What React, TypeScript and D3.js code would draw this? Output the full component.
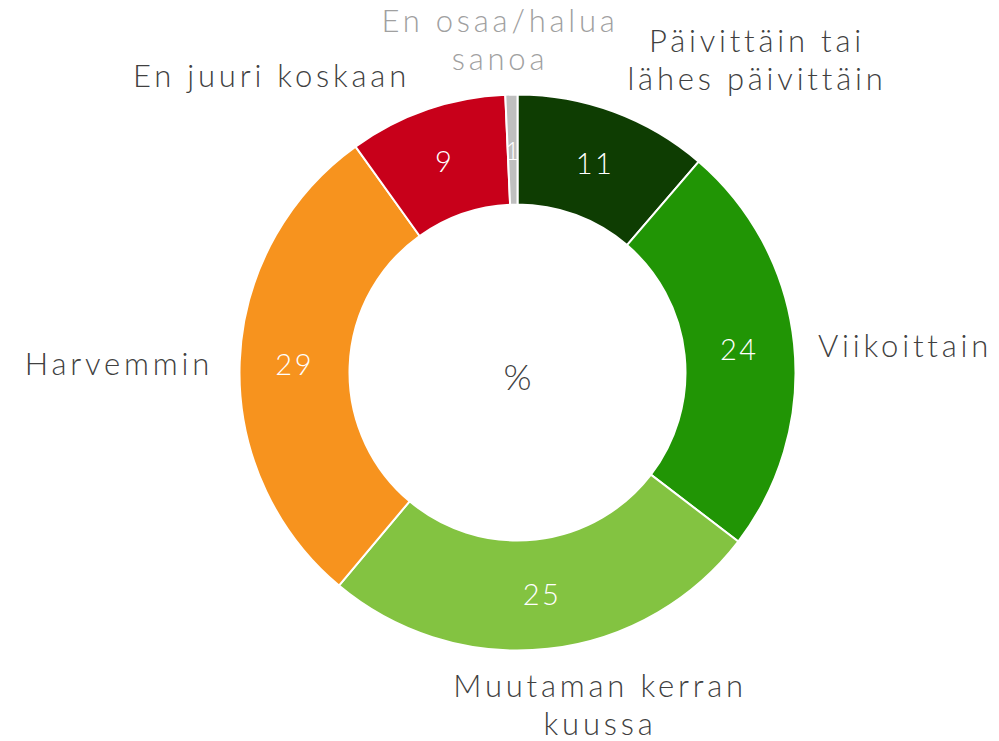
import React from "react";
import * as d3 from "d3";

const categories = [
  "Päivittäin tai lähes päivittäin",
  "Viikoittain",
  "Muutaman kerran kuussa",
  "Harvemmin",
  "En juuri koskaan",
  "En osaa/halua sanoa",
];
const values = [11.3, 24.1, 25.7, 29.0, 9.2, 0.7];
const valueLabels = ["11", "24", "25", "29", "9", "1"];
const colors = ["#0e3d02", "#219505", "#83c341", "#f7931e", "#c8001a", "#bfbfbf"];
const labelLines = [
  ["Päivittäin tai", "lähes päivittäin"],
  ["Viikoittain"],
  ["Muutaman kerran", "kuussa"],
  ["Harvemmin"],
  ["En juuri koskaan"],
  ["En osaa/halua", "sanoa"],
];
const labelColors = ["#404040", "#404040", "#404040", "#404040", "#404040", "#a0a0a0"];

const W = 999;
const H = 741;
const cx = 517.5;
const cy = 372.5;
const outerR = 278;
const innerR = 168;

// label placements (anchor, x, first baseline)
const labelPos: { x: number; y: number; anchor: string }[] = [
  { x: 757, y: 52, anchor: "middle" },
  { x: 818, y: 357, anchor: "start" },
  { x: 600, y: 697, anchor: "middle" },
  { x: 213, y: 375, anchor: "end" },
  { x: 410, y: 87, anchor: "end" },
  { x: 500, y: 32, anchor: "middle" },
];

const FONT = "Lato, 'DejaVu Sans', sans-serif";

export default function App() {
  const pie = d3.pie<number>().sort(null).value((d) => d)(values);
  const arc = d3.arc<d3.PieArcDatum<number>>().innerRadius(innerR).outerRadius(outerR);
  const labelArc = d3
    .arc<d3.PieArcDatum<number>>()
    .innerRadius((innerR + outerR) / 2)
    .outerRadius((innerR + outerR) / 2);

  return (
    <svg
      width={W}
      height={H}
      style={{ position: "absolute", left: 0, top: 0, background: "#fff" }}
    >
      <g transform={`translate(${cx},${cy})`}>
        {pie.map((p, i) => (
          <path key={i} d={arc(p) || ""} fill={colors[i]} stroke="#fff" strokeWidth={2} />
        ))}
        {pie.map((p, i) => {
          const [x, y] = labelArc.centroid(p);
          return (
            <text
              key={"v" + i}
              x={i === 5 ? x + 1 : x}
              y={i === 5 ? y + 1 : y}
              dy="0.36em"
              textAnchor="middle"
              fill="#fff"
              fontFamily={FONT}
              fontWeight={300}
              fontSize={i === 5 ? 26 : 29}
              letterSpacing={2.5}
            >
              {valueLabels[i]}
            </text>
          );
        })}
        <text
          x={0}
          y={5}
          dy="0.36em"
          textAnchor="middle"
          fill="#404040"
          fontFamily={FONT}
          fontWeight={300}
          fontSize={36}
        >
          %
        </text>
      </g>
      {categories.map((c, i) => (
        <text
          key={"l" + i}
          x={labelPos[i].x}
          y={labelPos[i].y}
          textAnchor={labelPos[i].anchor}
          fill={labelColors[i]}
          fontFamily={FONT}
          fontWeight={300}
          fontSize={31}
          letterSpacing={3.8}
        >
          {labelLines[i].map((line, j) => (
            <tspan key={j} x={labelPos[i].x} dy={j === 0 ? 0 : 38}>
              {line}
            </tspan>
          ))}
        </text>
      ))}
    </svg>
  );
}
